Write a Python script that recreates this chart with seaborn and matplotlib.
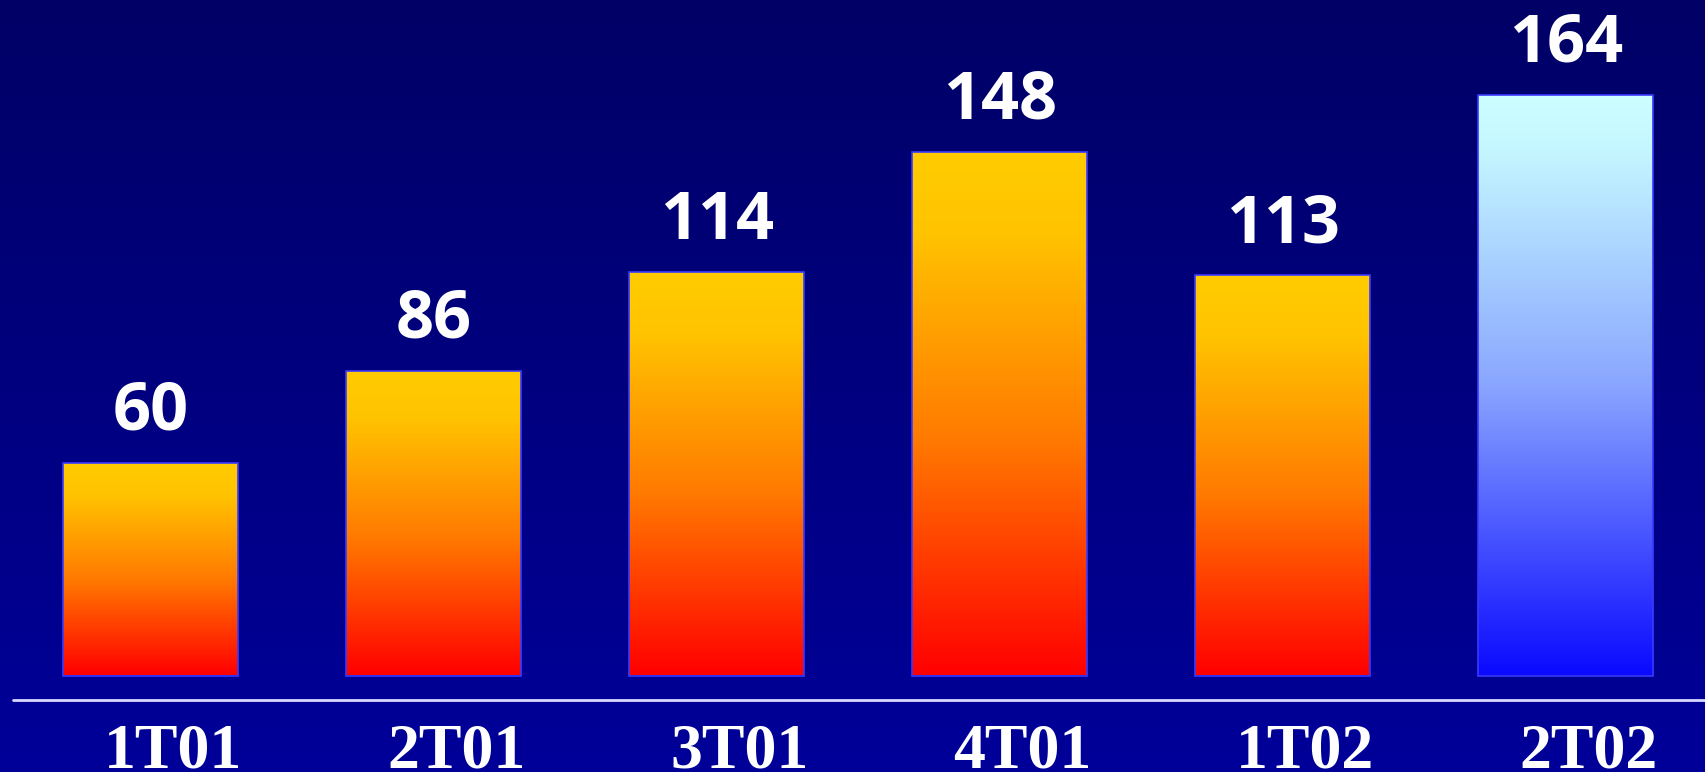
import numpy as np
import matplotlib
matplotlib.use("Agg")
import matplotlib.pyplot as plt
from matplotlib.colors import LinearSegmentedColormap
import seaborn as sns

categories = ["1T01", "2T01", "3T01", "4T01", "1T02", "2T02"]
values = [60, 86, 114, 148, 113, 164]
highlight = [False, False, False, False, False, True]

sns.set_theme(style="white")
plt.rcParams['font.family'] = ['Open Sans', 'DejaVu Sans']

W, H, DPI = 1706, 772, 100
fig = plt.figure(figsize=(W / DPI, H / DPI), dpi=DPI)
ax = fig.add_axes([0, 0, 1, 1])

# background gradient
bg_cmap = LinearSegmentedColormap.from_list("bg", ["#000099", "#000066"])
grad = np.linspace(0, 1, 256).reshape(-1, 1)
ax.imshow(grad, cmap=bg_cmap, aspect="auto", origin="lower",
          extent=[0, 1, 0, 1], transform=ax.transAxes, zorder=0)

sns.barplot(x=categories, y=values, ax=ax, width=0.618, color="none",
            edgecolor="#3a3aff", linewidth=1.2, zorder=3)

warm = LinearSegmentedColormap.from_list(
    "warm", [(0, "#ff0000"), (0.45, "#ff7a00"), (0.85, "#ffc400"), (1, "#ffcc00")])
cool = LinearSegmentedColormap.from_list(
    "cool", [(0, "#0a0aff"), (0.5, "#8aa6ff"), (0.9, "#c4f6ff"), (1, "#ccffff")])

for patch, hl in zip(ax.patches, highlight):
    x0, y0 = patch.get_x(), patch.get_y()
    w, h = patch.get_width(), patch.get_height()
    im = ax.imshow(grad, cmap=cool if hl else warm, aspect="auto", origin="lower",
                   extent=[x0, x0 + w, y0, y0 + h], zorder=2)
    im.set_clip_path(patch)
    patch.set_facecolor("none")

# value labels
for i, v in enumerate(values):
    ax.annotate(str(v), (i, v), xytext=(0, 24), textcoords="offset points",
                ha="center", va="baseline", color="white", fontsize=48,
                fontweight="bold", zorder=5)

# limits mapping
ppu = 3.54
y0px = 96.5
ax.set_xlim(-150.7 / 283, (W - 150.7) / 283)
ax.set_ylim(-y0px / ppu, (H - y0px) / ppu)

# baseline rule
ax.axhline((72.5 - y0px) / ppu, xmin=13 / W, xmax=1, color="#d8d8ff", lw=2, zorder=4)

# category labels
for i, c in enumerate(categories):
    ax.text(i + 0.08, (5 - y0px) / ppu, c, ha="center", va="baseline",
            color="white", fontsize=46, fontweight="bold",
            family=["Liberation Serif", "DejaVu Serif"], zorder=5)

ax.set_axis_off()
fig.savefig("out.png", dpi=DPI)
